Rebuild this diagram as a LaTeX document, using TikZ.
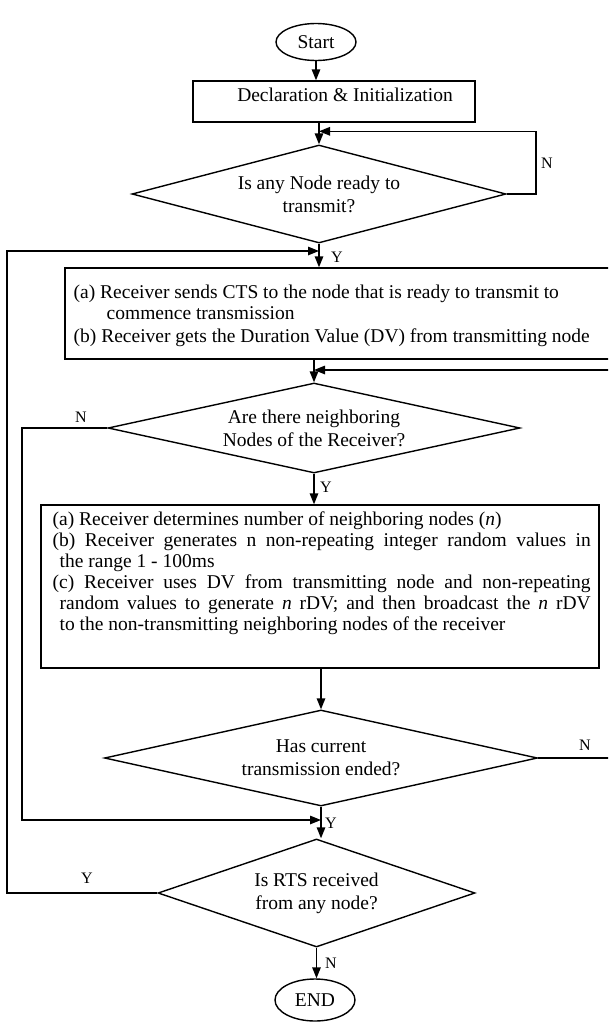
\documentclass[tikz,border=0pt]{standalone}
\usepackage{fontspec}
\setmainfont{Liberation Serif}
\usetikzlibrary{shapes.geometric,arrows.meta,calc}
\begin{document}
\begin{tikzpicture}[x=1pt,y=-1pt, line width=1.4pt,
  arr/.style={-{Triangle[length=11pt,width=8.5pt]}},
  box/.style={draw, rectangle, inner sep=0pt},
  dec/.style={draw, diamond, inner sep=0pt, align=center, font=\fontsize{19.5}{23}\selectfont},
  term/.style={draw, ellipse, inner sep=0pt, font=\fontsize{19.5}{22}\selectfont},
  txt/.style={anchor=base west, inner sep=0pt, font=\fontsize{19.5}{21}\selectfont},
  lab/.style={inner sep=0pt, font=\fontsize{16}{16}\selectfont}]
\useasboundingbox (0,0) rectangle (608,1023);
\clip (0,0) rectangle (608,1023);

% shapes
\node[term, minimum width=80pt, minimum height=37pt] (start) at (316,42) {Start};
\node[box, minimum width=282pt, minimum height=41pt] (b1) at (334,101.5) {};
\node[txt, anchor=center] (t1) at (345,95) {Declaration \& Initialization};
\node[dec, aspect=3.8, minimum width=374pt, minimum height=98pt] (d1) at (319,194) {Is any Node ready to\\transmit?};
\node[box, minimum width=560pt, minimum height=91pt] (b2) at (345,313.5) {};
\node[txt] (t2a) at (73,298) {(a) Receiver sends CTS to the node that is ready to transmit to};
\node[txt] (t2b) at (106,319) {commence transmission};
\node[txt] (t2c) at (73,342) {(b) Receiver gets the Duration Value (DV) from transmitting node};
\node[dec, aspect=4.6, minimum width=412pt, minimum height=90pt] (d2) at (314,428) {Are there neighboring\\Nodes of the Receiver?};
\node[box, minimum width=558pt, minimum height=163pt] (b3) at (320,586.5) {};
\node[txt] (t3a) at (52,525) {(a) Receiver determines number of neighboring nodes (\textit{n})};
\node[txt] (t3b) at (52,546) {\makebox[538pt][s]{(b) Receiver generates n non-repeating integer random values in}};
\node[txt] (t3c) at (59,567) {the range 1 - 100ms};
\node[txt] (t3d) at (52,588) {\makebox[538pt][s]{(c) Receiver uses DV from transmitting node and non-repeating}};
\node[txt] (t3e) at (59,609) {\makebox[531pt][s]{random values to generate \textit{n} rDV; and then broadcast the \textit{n} rDV}};
\node[txt] (t3f) at (59,630) {to the non-transmitting neighboring nodes of the receiver};
\node[dec, aspect=4.5, minimum width=433pt, minimum height=96pt] (d3) at (321,758) {Has current\\transmission ended?};
\node[dec, aspect=2.9, minimum width=317pt, minimum height=108pt] (d4) at (316.5,893) {Is RTS received\\from any node?};
\node[term, minimum width=80pt, minimum height=42pt] (end) at (315,1000) {END};

% junction coordinates
\coordinate (m1) at ($(d1.north)+(0,-13)$);
\coordinate (m2) at (d1.south |- 0,251);
\coordinate (m3) at (d2.north |- 0,370);
\coordinate (m4) at (d3.south |- 0,820);
\coordinate (r1) at (536,194);
\coordinate (r3) at (625,758);
\coordinate (l2) at (22,428);
\coordinate (l4) at (7,893);

% connectors
\draw[arr] (start.south) -- (start.south |- b1.north);
\draw[arr] (d1.north |- b1.south) -- (d1.north);
\draw[arr] (d1.east) -- (r1) |- (m1);
\draw[arr] (d1.south) -- (d1.south |- b2.north);
\draw[arr] (d2.north |- b2.south) -- (d2.north);
\draw[arr] (d2.south) -- (d2.south |- b3.north);
\draw[arr] (d3.north |- b3.south) -- (d3.north);
\draw[arr] (d3.south) -- (d3.south |- d4.north);
\draw[arr] (d4.south) -- (d4.south |- end.north);
\draw[arr] (d4.west) -- (l4) |- (m2);
\draw[arr] (d2.west) -- (l2) |- (m4);
\draw[arr] (d3.east) -- (r3) |- (m3);

% labels
\node[lab] (n1) at (547,163) {N};
\node[lab] (y1) at (337,257) {Y};
\node[lab] (n2) at (81,417) {N};
\node[lab] (y2) at (326,487) {Y};
\node[lab] (n3) at (585,745) {N};
\node[lab] (y3) at (331,823) {Y};
\node[lab] (y4) at (87,878) {Y};
\node[lab] (n4) at (331,963) {N};
\end{tikzpicture}
\end{document}
